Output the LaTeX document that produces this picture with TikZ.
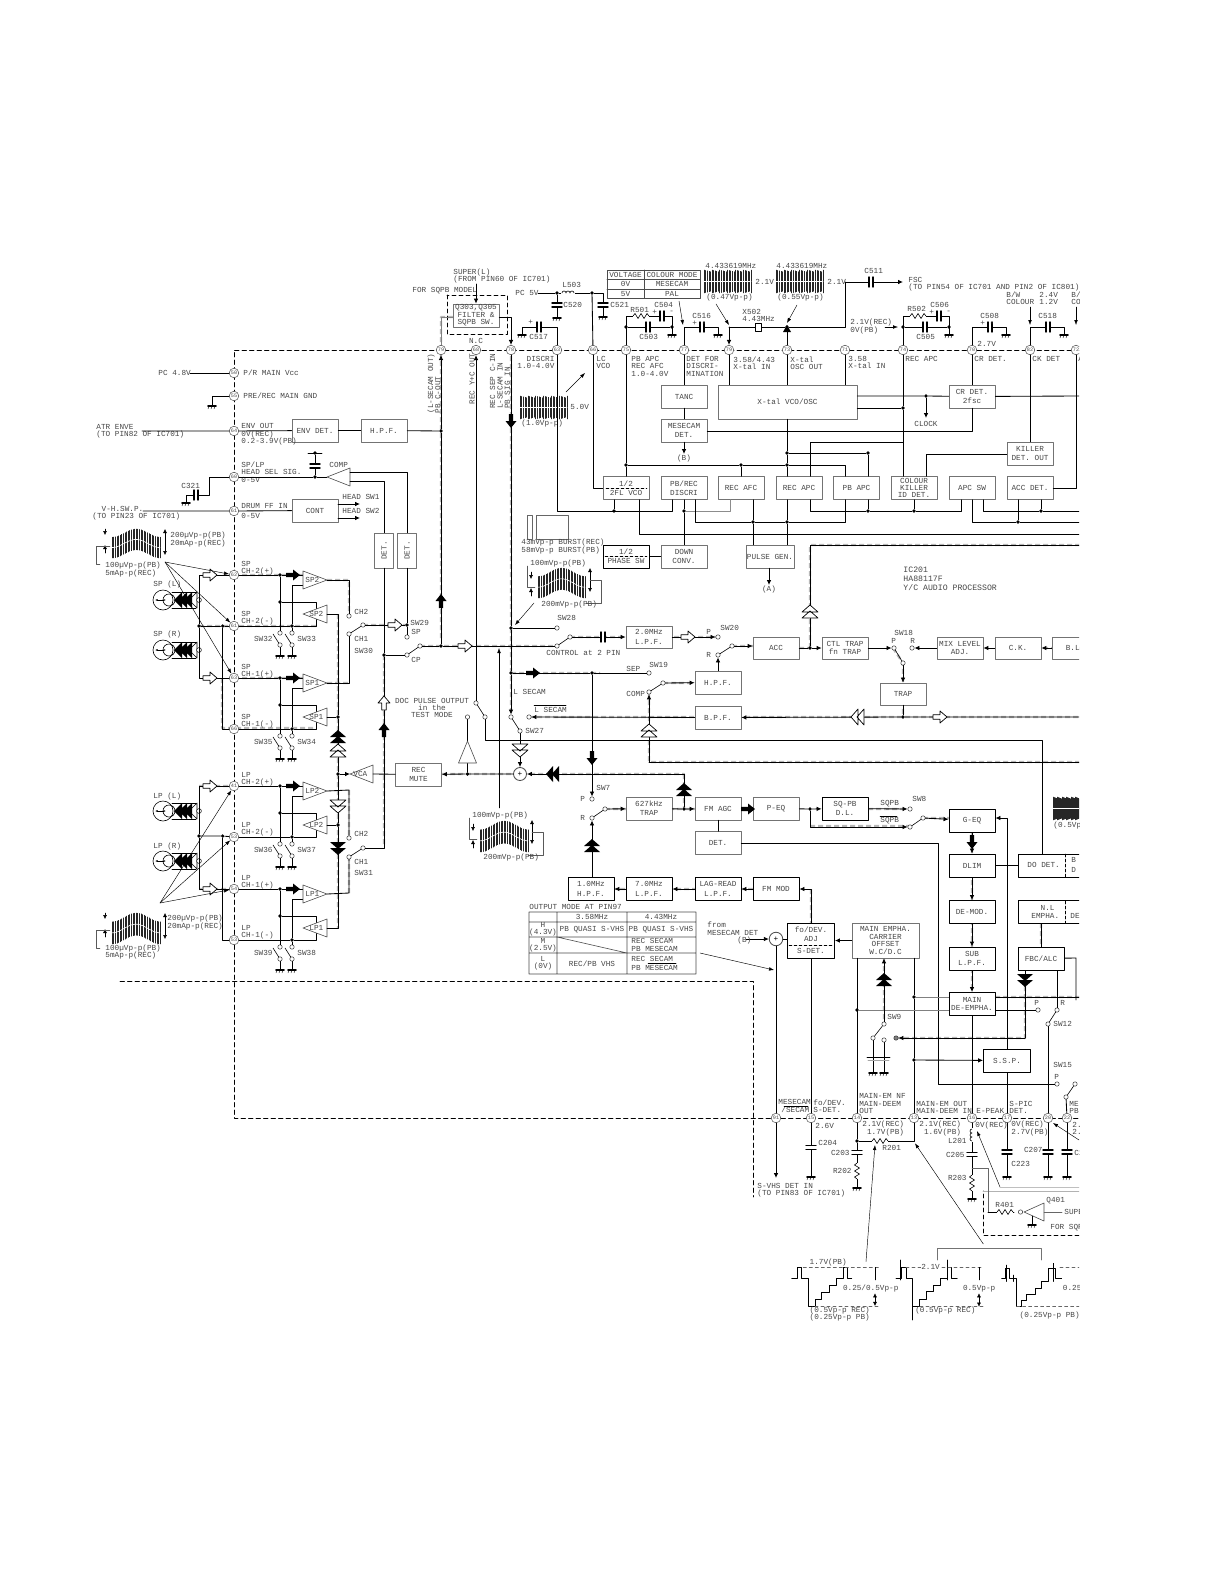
\documentclass[tikz,border=0pt]{standalone}
\usepackage{fontspec}
\setmainfont{Liberation Mono}
\usetikzlibrary{arrows.meta,calc}
\newcommand{\lblfont}{\fontsize{7.7}{7.4}\selectfont}
\newcommand{\pinfont}{\fontsize{5.2}{5.2}\selectfont}
\tikzset{
  txt/.style={font=\lblfont,text=black!72,inner sep=0pt,anchor=west,align=left},
  ctxt/.style={font=\lblfont,text=black!72,inner sep=0pt,align=center},
  blk/.style={draw=black!55,line width=.7pt,fill=white,font=\lblfont,text=black!72,align=center,inner sep=0pt,minimum width=46pt,minimum height=23pt},
  bblk/.style={blk,draw=black,line width=.9pt},
  icpin/.style={circle,draw=black!70,fill=white,inner sep=0pt,minimum size=9.6pt,line width=.5pt,font=\pinfont,text=black!70},
  term/.style={circle,draw=black!80,fill=white,inner sep=0pt,minimum size=4.4pt,line width=.5pt},
  jdot/.style={circle,fill=black,inner sep=0pt,minimum size=3.6pt},
  arr/.style={-{Latex[length=5pt,width=4.6pt]}},
  thin arr/.style={line width=.45pt,-{Latex[length=5pt,width=3.6pt]}},
  hl/.style={line width=2.4pt,draw=black!28,dash pattern=on 5pt off 3pt,line cap=butt},
  icbound/.style={line width=.8pt,dash pattern=on 4.5pt off 3pt},
  amp/.style={draw=black!70,line width=.6pt,fill=white},
  gnd/.pic={\draw[line width=1.6pt] (-4,0) -- (4,0); \draw[line width=.35pt] (-3,0) -- (-4,3) (0,0) -- (-1,3) (3,0) -- (2,3);},
  capa/.pic={\fill[white] (-2,-5) rectangle (2,5); \draw[line width=1.4pt] (-2,-5) -- (-2,5) (2,-5) -- (2,5);},
  resa/.pic={\fill[white] (-8,-3) rectangle (8,3); \draw[line width=.6pt] (-8,0) -- (-6,-2.5) -- (-3,2.5) -- (0,-2.5) -- (3,2.5) -- (6,-2.5) -- (8,0);},
  coila/.pic={\fill[white] (-7,-3) rectangle (7,3); \draw[line width=.6pt] (-6,0) arc[start angle=180,end angle=360,radius=2] arc[start angle=180,end angle=360,radius=2] arc[start angle=180,end angle=360,radius=2];},
  fatarr/.pic={\fill (-7,-2.2) -- (0,-2.2) -- (0,-5.5) -- (7,0) -- (0,5.5) -- (0,2.2) -- (-7,2.2) -- cycle;},
  openarr/.pic={\filldraw[fill=white,line width=.7pt] (-7,-2.2) -- (0,-2.2) -- (0,-6) -- (7,0) -- (0,6) -- (0,2.2) -- (-7,2.2) -- cycle;},
  dblfat/.pic={\fill (-6,-8) -- (1,0) -- (-6,8) -- cycle (0,-8) -- (7,0) -- (0,8) -- cycle;},
  dblopen/.pic={\filldraw[fill=white,line width=.7pt] (-6,-8) -- (1,0) -- (-6,8) -- cycle (0,-8) -- (7,0) -- (0,8) -- cycle;},
}
\newcommand{\gndat}[2]{\coordinate (#1) at (#2); \pic at (#1) {gnd};}
% hatched signal band, x y w h
\newcommand{\wavepic}[4]{%
  \foreach \i in {0,...,30}{
    \pgfmathsetmacro\xx{#1+\i*#3/30}
    \pgfmathsetmacro\yt{#2+#4*(.14+.14*sin(\i*12+90))}
    \draw[line width=.38pt,draw=black!85] (\xx,\yt) -- (\xx,\yt+#4*.72);
  }
  \draw[white,line width=.6pt] plot[domain=0:360,samples=25] ({#1+#3*(\x/360)},{#2+#4*(.5+.14*sin(\x+90))});
}
\newcommand{\burstpic}[4]{%
  \foreach \i in {0,...,30}{
    \pgfmathsetmacro\xx{#1+\i*#3/30}
    \pgfmathsetmacro\yd{mod(\i,5)*.4}
    \draw[line width=.38pt,draw=black!85] (\xx,#2+\yd) -- (\xx,#2+#4-\yd);
  }
  \draw[white,line width=.6pt] (#1,#2+#4*.5) -- (#1+#3,#2+#4*.5);
}
% amplifier pair with its two switches
\newcommand{\ampstage}[8]{%
  \begin{scope}[shift={(0,#2)}]
    \node[icpin] (#1p) at (234,0) {#3};
    \node[icpin] (#1m) at (234,51) {#4};
    \node[jdot] (#1a) at (280,0) {};
    \node[jdot] (#1b) at (280,27) {};
    \node[jdot] (#1c) at (292,51) {};
    \node[term] (#1s) at (280,58) {};
    \node[term] (#1t) at (292,58) {};
    \node[term] (#1u) at (280,70) {};
    \node[term] (#1v) at (292,70) {};
    \gndat{#1g}{280,81}
    \gndat{#1h}{292,81}
    \coordinate (#1i) at (303,0);
    \coordinate (#1j) at (303,10);
    \coordinate (#1jj) at (292,10);
    \coordinate (#1k) at (316,27);
    \coordinate (#1l) at (316,34);
    \coordinate (#1n) at (316,51);
    \coordinate (#1o) at (316,44);
    \coordinate (#1q) at (327,5);
    \coordinate (#1r) at (327,39);
    \draw (#1p) -- (#1a) -- (#1i);
    \draw (#1a) -- (#1s);
    \draw (#1b) -- (#1k) -- (#1l);
    \draw (#1m) -- (#1c) -- (#1n) -- (#1o);
    \draw (#1t) -- (#1c) -- (#1jj) -- (#1j);
    \draw[line width=.6pt] (273,59) -- (#1u) (285,59) -- (#1v);
    \draw (#1u) -- (#1g) (#1v) -- (#1h);
    \draw[amp] (303,-4) -- (327,5) -- (303,14) -- cycle;
    \draw[amp] (303,39) -- (327,30) -- (327,48) -- cycle;
    \node[txt] (#1la) at (305,5) {#5#6};
    \node[txt] (#1lb) at (309,39) {#5#6};
    \node[txt] (#1lc) at (241,-7) {#5\\CH-#6(+)};
    \node[txt] (#1ld) at (241,43) {#5\\CH-#6(-)};
    \node[txt,anchor=east] (#1le) at (273,64) {#7};
    \node[txt] (#1lf) at (297,64) {#8};
  \end{scope}
}
% tape head with its coil
\newcommand{\headunit}[3]{%
  \begin{scope}[shift={(0,#2)}]
    \node[txt] (#1l) at (153,-15) {#3};
    \draw[line width=.6pt] (163,0) circle (10) (169,0) circle (6);
    \draw[line width=.6pt,{Latex[length=2.5pt]}-{Latex[length=2.5pt]}] (155,0) -- (166,0);
    \draw[line width=.6pt] (172,-8) -- (196,-8) (172,8) -- (196,8);
    \fill (174,0) -- (182,-8) -- (182,8) -- cycle (179,0) -- (187,-8) -- (187,8) -- cycle (184,0) -- (192,-8) -- (192,8) -- cycle;
    \draw[line width=.6pt] (189,0) -- (197,-8) -- (197,8) -- cycle;
    \draw[line width=.5pt,fill=white] (199,0) circle (2.4);
  \end{scope}
}
\begin{document}
\begin{tikzpicture}[x=1pt,y=-1pt,line width=.85pt,line cap=round,line join=round]
  \useasboundingbox (0,0) rectangle (1224,1584);
  \fill[white] (0,0) rectangle (1224,1584);
  \clip (0,0) rectangle (1079,1584);

  % scanned highlight under the signal paths
  \draw[hl] (453,317) -- (441,317) -- (441,640) (511,356) -- (511,712) (420,646) -- (556,646)
    (234,575) -- (303,575) (327,580) -- (349,580) -- (349,612) (199,626) -- (316,626)
    (234,678) -- (303,678) (327,683) -- (349,683) (222,678) -- (222,728) -- (316,728)
    (338,614) -- (338,928) (384,655) -- (384,845) (363,625) -- (407,625) (442,774) -- (684,774)
    (684,774) -- (684,808) (570,637) -- (718,637) (732,646) -- (753,646) (799,648) -- (810,648)
    (810,648) -- (810,545) -- (1079,545) (649,692) -- (649,762) -- (1079,762)
    (529,717) -- (1079,717) (511,673) -- (600,673) (663,683) -- (695,683)
    (605,809) -- (799,809) (810,826) -- (910,826) (868,809) -- (910,809) (923,818) -- (949,818)
    (972,832) -- (972,1004) (811,889) -- (811,923) (753,889) -- (568,889)
    (884,958) -- (884,1024) (896,1038) -- (1025,1038) -- (1025,985) (995,997) -- (1079,997)
    (893,648) -- (903,663) -- (903,717) (995,648) -- (1079,648) (1041,923) -- (1041,947)
    (199,786) -- (234,786) (234,889) -- (199,889) (349,790) -- (349,838) (349,893) -- (349,857);

  % IC boundary and the outer dashed frame
  \draw[icbound] (1079,350) -- (234,350) -- (234,1118) -- (1079,1118);
  \draw[icbound] (120,981) -- (753,981) -- (753,1197);
  \draw[line width=.6pt,dash pattern=on 4pt off 3pt] (447,295) rectangle (507,334);
  \draw[line width=.6pt,dash pattern=on 4pt off 3pt] (1079,1235) -- (983,1235) -- (983,1191);
  \draw[line width=.6pt,draw=black!30] (983,1191) -- (1079,1191);

  % pins, top row
  \foreach \nm/\xx/\tx in {pinu/441/79,pinv/476/68,pinw/511/78,pinx/557/63,piny/593/66,pinz/626/75,
      pina/684/77,pinb/729/79,pinc/787/73,pind/845/71,pine/903/74,pinf/972/70,ping/1030/82,pinh/1076/72}{
    \node[icpin] (\nm) at (\xx,350) {\tx};
  }
  % pins, left side
  \foreach \nm/\yy/\tx in {pinvcc/373/50,pingnd/396/55,pinenv/431/64,pinsel/477/60,pindrum/511/61}{
    \node[icpin] (\nm) at (234,\yy) {\tx};
  }
  % pins, bottom row
  \foreach \nm/\xx/\tx in {pinsec/776/91,pinfo/811/15,pinnf/857/14,pinem/914/13,pinpk/972/16,pinpic/1007/17,pinsw/1048/20,pinme/1067/22}{
    \node[icpin] (\nm) at (\xx,1118) {\tx};
  }

  % blocks
  \node[blk] (envdet) at (315,430.5) {ENV DET.};
  \node[blk] (hpfa) at (384,430.5) {H.P.F.};
  \node[blk] (cont) at (315,510.5) {CONT};
  \node[blk,minimum width=19pt,minimum height=35pt] (deta) at (384,550.5) {\rotatebox{90}{DET.}};
  \node[blk,minimum width=19pt,minimum height=35pt] (detb) at (407,550.5) {\rotatebox{90}{DET.}};
  \node[blk] (q303) at (476,315.5) {Q303,Q305\\FILTER \&\\SQPB SW.};
  \node[blk] (tanc) at (684,396.5) {TANC};
  \node[blk] (mesdet) at (684,430.5) {MESECAM\\[2pt]DET.};
  \node[blk,minimum width=139pt,minimum height=34pt] (xtal) at (787.5,402) {X-tal VCO/OSC};
  \node[blk] (crdet) at (972,396.5) {CR DET.\\[2pt]2fsc};
  \node[blk] (killer) at (1030,453.5) {KILLER\\[2pt]DET. OUT};
  \node[blk] (vcoa) at (626,488) {1/2\\[2pt]2FL VCO};
  \node[blk] (discri) at (684,488) {PB/REC\\[2pt]DISCRI};
  \node[blk] (recafc) at (741,488) {REC AFC};
  \node[blk] (recapc) at (799,488) {REC APC};
  \node[blk] (pbapc) at (856.5,488) {PB APC};
  \node[blk] (killid) at (914,488) {COLOUR\\KILLER\\ID DET.};
  \node[blk] (apcsw) at (972,488) {APC SW};
  \node[blk] (accdet) at (1030,488) {ACC DET.};
  \node[bblk] (phasesw) at (626,556.5) {1/2\\[2pt]PHASE SW};
  \node[blk] (downconv) at (684,556.5) {DOWN\\[2pt]CONV.};
  \node[blk,minimum width=48pt] (pulsegen) at (770,556.5) {PULSE GEN.};
  \node[blk,minimum height=22pt] (lpfa) at (649,637) {2.0MHz\\[2pt]L.P.F.};
  \node[blk,minimum height=22pt] (acc) at (776,648) {ACC};
  \node[blk,minimum height=22pt] (ctltrap) at (845,648) {CTL TRAP\\fn TRAP};
  \node[blk,minimum height=22pt] (mixadj) at (960,648) {MIX LEVEL\\ADJ.};
  \node[blk,minimum height=22pt] (ckblk) at (1018,648) {C.K.};
  \node[blk,minimum height=22pt] (blblk) at (1075,648) {B.L.};
  \node[blk,minimum height=22pt] (trapb) at (903,694) {TRAP};
  \node[blk] (hpfb) at (718,682.5) {H.P.F.};
  \node[blk] (bpf) at (718,717.5) {B.P.F.};
  \node[blk] (recmute) at (418.5,774.5) {REC\\[2pt]MUTE};
  \node[blk] (trapc) at (649,808.5) {627kHz\\[2pt]TRAP};
  \node[blk] (fmagc) at (718,808.5) {FM AGC};
  \node[blk] (peq) at (776,808.5) {P-EQ};
  \node[bblk] (sqpb) at (845,808.5) {SQ-PB\\[2pt]D.L.};
  \node[blk] (detc) at (718,843) {DET.};
  \node[bblk] (geq) at (972,820.5) {G-EQ};
  \node[bblk] (dlim) at (972,865.5) {DLIM};
  \node[bblk] (demod) at (972,912) {DE-MOD.};
  \node[bblk] (sublpf) at (972,958.5) {SUB\\[2pt]L.P.F.};
  \node[bblk] (mainde) at (972,1004) {MAIN\\[1pt]DE-EMPHA.};
  \node[bblk] (hpfc) at (591,889) {1.0MHz\\[2pt]H.P.F.};
  \node[bblk] (lpfb) at (649,889) {7.0MHz\\[2pt]L.P.F.};
  \node[bblk] (lagread) at (718,889) {LAG-READ\\[2pt]L.P.F.};
  \node[bblk] (fmmod) at (776,889) {FM MOD};
  \node[bblk,minimum width=47pt,minimum height=35pt] (fndev) at (811,940.5) {fo/DEV.\\[1pt]ADJ\\[5pt]S-DET.};
  \node[blk,minimum width=67pt,minimum height=35pt] (mainemp) at (885.5,940.5) {MAIN EMPHA.\\CARRIER\\OFFSET\\W.C/D.C};
  \node[bblk,minimum width=47pt] (ssp) at (1007,1060.5) {S.S.P.};
  \node[bblk,minimum width=80pt] (dodet) at (1058,865.5) {};
  \node[bblk,minimum width=80pt] (nlemph) at (1058,912) {};
  \node[bblk] (fbc) at (1041,958.5) {FBC/ALC};
  \node[txt] (dotxt) at (1027,865) {DO DET.};
  \node[txt] (nltxt) at (1031,912) {~~N.L\\[1pt]EMPHA.};
  \node[txt] (bdtxt) at (1071,865) {B\\[3pt]D};
  \node[txt] (detxt) at (1070,916) {DE};
  \draw[line width=.5pt,dash pattern=on 3pt off 2pt] (1065,854) -- (1065,877) (1065,901) -- (1065,923);
  \draw[line width=.4pt,dash pattern=on 3pt off 2pt] (789,945) -- (832,945) (606,488) -- (647,488) (605,556) -- (647,556);

  % left side, top
  \node[txt] (pcfour) at (158,373) {PC 4.8V};
  \coordinate (vccl) at (190,373);
  \draw (vccl) -- (pinvcc);
  \node[txt] (vcctxt) at (243,373) {P/R MAIN Vcc};
  \node[txt] (gndtxt) at (243,396) {PRE/REC MAIN GND};
  \gndat{gpre}{212,406}
  \draw (pingnd) -| (gpre);
  \node[txt] (atrtxt) at (96,431) {ATR ENVE\\(TO PIN82 OF IC701)};
  \coordinate (envl) at (142,431);
  \node[jdot] (envj) at (441,431) {};
  \draw (envl) -- (pinenv) -- (envdet) -- (hpfa) -- (envj);
  \node[txt] (envtxt) at (241,434.5) {ENV OUT\\0V(REC)\\0.2-3.9V(PB)};
  \node[txt] (seltxt) at (241,472) {SP/LP\\HEAD SEL SIG.\\0-5V};
  \node[jdot] (selj) at (315,477) {};
  \coordinate (compin) at (327,477);
  \draw (pinsel) -- (selj) -- (compin);
  \draw[amp] (327,477) -- (350,468) -- (350,486) -- cycle;
  \node[txt] (comptxt) at (329,465) {COMP};
  \node[jdot] (capt) at (315,453) {};
  \coordinate (capl) at (308,453); \coordinate (capr) at (322,453);
  \draw (capl) -- (capr);
  \draw (capt) -- (selj);
  \pic[rotate=90] at (315,466) {capa};
  \coordinate (compa) at (350,472); \coordinate (compb) at (350,481);
  \draw (compa) -| (detb.north);
  \draw (compb) -| (deta.north);
  \coordinate (c321a) at (209,495);
  \gndat{g321}{186,503}
  \draw (pinsel) -| (c321a) -| (g321);
  \pic at (196,495) {capa};
  \node[txt] (c321) at (181,486) {C321};
  \node[txt] (vhtxt) at (92,513) {~~V-H.SW.P.\\(TO PIN23 OF IC701)};
  \coordinate (drl) at (143,511);
  \draw (drl) -- (pindrum) -- (cont);
  \node[txt] (drumtxt) at (241,511) {DRUM FF IN\\[2pt]0-5V};
  \coordinate (swa) at (360,504); \coordinate (swb) at (360,518);
  \coordinate (swc) at (338,504); \coordinate (swd) at (338,518);
  \draw[arr] (swc) -- (swa);
  \draw[arr] (swd) -- (swb);
  \node[txt] (swatxt) at (342,497) {HEAD SW1};
  \node[txt] (swbtxt) at (342,511) {HEAD SW2};

  % top left of the IC, pins and labels
  \node[txt] (suptxt) at (453,276) {SUPER(L)\\(FROM PIN60 OF IC701)};
  \node[txt] (sqtxt) at (412,291) {FOR SQPB MODEL};
  \coordinate (supa) at (476,284);
  \draw[arr] (supa) -- (q303);
  \coordinate (qa) at (511,317); \coordinate (qb) at (441,317);
  \draw[arr] (q303.east |- qa) -- (qa) -- (pinw);
  \draw[line width=.5pt,draw=black!50] (q303.west |- qb) -- (qb) -- (pinu);
  \node[ctxt] (nctxt) at (476,341) {N.C};
  \node[txt,rotate=90,anchor=east] (tra) at (434,353) {(L-SECAM OUT)\\PB C-OUT};
  \node[txt,rotate=90,anchor=east] (trb) at (472,353) {REC Y+C OUT};
  \node[txt,rotate=90,anchor=east] (trc) at (500,353) {REC SEP C-IN\\L-SECAM IN\\PB SIG IN};
  \node[txt] (disctxt) at (517,362.5) {~~DISCRI\\1.0-4.0V};
  \burstpic{520}{396}{47}{23}
  \node[txt] (fivev) at (570,407) {5.0V};
  \node[txt] (onev) at (521,424) {(1.0Vp-p)};
  \coordinate (wfa) at (566,392); \coordinate (wfb) at (585,373);
  \draw[thin arr] (wfa) -- (wfb);

  \node[txt] (pcfive) at (515,293) {PC 5V};
  \coordinate (pcl) at (538,293);
  \node[jdot] (j520) at (557,293) {};
  \node[jdot] (j521) at (592,293) {};
  \coordinate (c521t) at (603,293);
  \gndat{g520}{557,318}
  \gndat{g521}{603,317}
  \draw (pcl) -- (j520) -- (j521) -- (c521t) -- (g521);
  \draw (j520) -- (g520);
  \pic at (568,293) {coila};
  \pic[rotate=90] at (557,305) {capa};
  \pic[rotate=90] at (603,305) {capa};
  \node[txt] (l503) at (562,285) {L503};
  \node[txt] (c520) at (563,305) {C520};
  \node[txt] (c521) at (610,305) {C521};
  \gndat{g517}{522,335}
  \coordinate (c517a) at (522,327);
  \draw (pinx) |- (c517a) -- (g517);
  \pic at (539,327) {capa};
  \node[txt] (c517) at (529,337) {C517};
  \node[txt] (p517) at (528,322) {+};
  \draw (j521) -- (piny);
  \coordinate (vcol) at (593,488);
  \draw (piny) -- (vcol) -- (vcoa);
  \node[txt] (lcvco) at (596,362.5) {LC\\VCO};
  \coordinate (x511) at (672.7,511);
  \draw (pinx) |- (x511) -- (discri.south -| x511);
  \node[jdot] (j614) at (614,511) {};
  \draw (j614) -- (vcoa.south -| j614);

  % colour mode table
  \draw[line width=.6pt,draw=black!70] (607,270) rectangle (700,298) (607,279) -- (700,279) (607,289) -- (700,289) (644,270) -- (644,298);
  \node[ctxt] (tva) at (625.5,275) {VOLTAGE};
  \node[ctxt] (tvb) at (672,275) {COLOUR MODE};
  \node[ctxt] (tvc) at (625.5,284) {0V};
  \node[ctxt] (tvd) at (672,284) {MESECAM};
  \node[ctxt] (tve) at (625.5,293.5) {5V};
  \node[ctxt] (tvf) at (672,293.5) {PAL};

  % pin 75 and pin 74 filter nets
  \foreach \nm/\pn/\sx in {ftx/pinz/0,fty/pine/277}{
    \begin{scope}[shift={(\sx,0)}]
      \node[jdot] (\nm a) at (626,327) {};
      \node[jdot] (\nm b) at (672,327) {};
      \coordinate (\nm c) at (626,316);
      \coordinate (\nm d) at (672,316);
      \gndat{\nm e}{672,335}
      \draw (\pn) -- (\nm c) -- (\nm d) -- (\nm e);
      \draw (\nm a) -- (\nm b);
      \pic at (641,316) {resa};
      \pic at (662,316) {capa};
      \pic at (648,327) {capa};
      \node[txt] (\nm f) at (652,312) {+};
      \node[txt] (\nm g) at (669,312) {-};
    \end{scope}
  }
  \node[txt] (r501) at (630,310) {R501};
  \node[txt] (c504) at (654,305) {C504};
  \node[txt] (c503) at (639,337) {C503};
  \node[txt] (r502) at (907,309) {R502};
  \node[txt] (c506) at (930,305) {C506};
  \node[txt] (c505) at (916,337) {C505};
  \foreach \nm/\pn/\sx/\tx in {ga/pina/0/C516,gb/pinf/288/C508,gk/ping/346/C518}{
    \begin{scope}[shift={(\sx,0)}]
      \coordinate (\nm a) at (718,327);
      \gndat{\nm b}{718,335}
      \draw (\pn) |- (\nm a) -- (\nm b);
      \pic at (702,327) {capa};
      \node[txt] (\nm c) at (692,316) {\tx};
    \end{scope}
  }
  \node[txt] (pluse) at (692,323) {+ -};
  \node[txt] (plusf) at (980,323) {+ -};

  % X-tal group
  \node[jdot] (xj) at (787,327) {};
  \coordinate (xa) at (729,327);
  \coordinate (xb) at (845,327);
  \coordinate (xc) at (845,282);
  \coordinate (fsc) at (903,282);
  \draw[arr] (xa) -- (pinb);
  \draw (xa) -- (xj) -- (xb) -- (xc);
  \draw[arr] (xc) -- (fsc);
  \draw (pinc) -- (xj);
  \fill (787,325) -- (783,332) -- (791,332) -- cycle;
  \filldraw[fill=white,line width=.5pt] (755,323) rectangle (761,331);
  \pic at (871,282) {capa};
  \node[txt] (x502) at (742,315.5) {X502\\4.43MHz};
  \node[txt] (c511) at (864,271) {C511};
  \node[txt] (fsctxt) at (908,284) {FSC\\(TO PIN54 OF IC701 AND PIN2 OF IC801)};
  \burstpic{704}{270}{47}{23}
  \burstpic{776}{270}{47}{23}
  \node[txt] (wva) at (705,266) {4.433619MHz};
  \node[txt] (wvb) at (776,266) {4.433619MHz};
  \node[txt] (wvc) at (755,282) {2.1V};
  \node[txt] (wvd) at (827,282) {2.1V};
  \node[txt] (wve) at (706,298) {(0.47Vp-p)};
  \node[txt] (wvf) at (777,298) {(0.55Vp-p)};
  \coordinate (aa) at (679,301); \coordinate (ab) at (683,325);
  \coordinate (ac) at (716,304); \coordinate (ad) at (729,325);
  \coordinate (ae) at (797,305); \coordinate (af) at (787,323);
  \coordinate (ag) at (885,327); \coordinate (ah) at (898,327);
  \draw[thin arr] (aa) -- (ab);
  \draw[thin arr] (ac) -- (ad);
  \draw[thin arr] (ae) -- (af);
  \draw[thin arr] (ag) -- (ah);
  \node[txt] (vrec) at (850,326.5) {2.1V(REC)\\0V(PB)};
  \node[txt] (twosev) at (977,344) {2.7V};
  \node[txt] (bwtxt) at (1006,298.5) {B/W\\COLOUR};
  \node[txt] (vbw) at (1039,298.5) {2.4V\\1.2V};
  \node[txt] (bwb) at (1071,298.5) {B/\\CO};
  \coordinate (bwa) at (1030,307); \coordinate (bwc) at (1030,325);
  \coordinate (bwd) at (1076,307); \coordinate (bwe) at (1076,325);
  \draw[thin arr] (bwa) -- (bwc);
  \draw[thin arr] (bwd) -- (bwe);

  % labels under the top pins
  \node[txt,anchor=north west] (ta) at (631,356) {PB APC\\REC AFC\\1.0-4.0V};
  \node[txt,anchor=north west] (tb) at (686,356) {DET FOR\\DISCRI-\\MINATION};
  \node[txt,anchor=north west] (tc) at (733,356) {3.58/4.43\\X-tal IN};
  \node[txt,anchor=north west] (td) at (790,356) {X-tal\\OSC OUT};
  \node[txt,anchor=north west] (te) at (848,356) {3.58\\X-tal IN};
  \node[txt,anchor=north west] (tf) at (905,356) {REC APC};
  \node[txt,anchor=north west] (tg) at (974,356) {CR DET.};
  \node[txt,anchor=north west] (th) at (1032,356) {CK DET};
  \node[txt,anchor=north west] (ti) at (1078,356) {A};

  % wiring of the top half
  \draw (pina) -- (tanc);
  \draw (tanc) -- (mesdet);
  \coordinate (bout) at (684,454);
  \draw[arr] (mesdet) -- (bout);
  \node[ctxt] (btxt) at (684,458.5) {(B)};
  \coordinate (mesr) at (972,431);
  \draw (mesdet.east |- mesr) -- (mesr) -- (crdet);
  \draw (pinb) -- (xtal.north -| pinb);
  \draw (pinc) -- (xtal.north -| pinc);
  \draw (pind) -- (xtal.north -| pind);
  \node[jdot] (clkj) at (926,396) {};
  \coordinate (clkb) at (926,418);
  \draw (xtal.east |- clkj) -- (clkj) -- (crdet);
  \draw[arr] (clkj) -- (clkb);
  \node[ctxt] (clock) at (926,424) {CLOCK};
  \coordinate (crr) at (1079,396);
  \draw (crdet) -- (crr);
  \node[jdot] (apcj) at (903,408) {};
  \draw (xtal.east |- apcj) -- (apcj);
  \coordinate (apcc) at (810,442);
  \draw (pine) -- (apcj) -- (killid.north -| apcj);
  \coordinate (apcd) at (903,442);
  \draw (apcd) -- (apcc) -- (recapc.north -| apcc);
  \draw (pinf) -- (crdet);
  \draw (ping) -- (killer);
  \draw (pinh) |- (accdet);
  \coordinate (kila) at (926,454);
  \draw (killer.west |- kila) -- (kila) -- (killid.north -| kila);
  \node[jdot] (ja) at (787,453) {};
  \node[jdot] (jb) at (787,465) {};
  \node[jdot] (jc) at (868,453) {};
  \draw (xtal.south -| ja) -- (ja) -- (jb) -- (recapc.north -| jb);
  \draw (ja) -- (jc) -- (pbapc.north -| jc);
  \node[jdot] (jd) at (626,465) {};
  \node[jdot] (je) at (741,465) {};
  \coordinate (jf) at (845,465);
  \draw (pinz) -- (jd) -- (vcoa);
  \draw (jd) -- (je) -- (jb) -- (jf) -- (pbapc.north -| jf);
  \draw (je) -- (recafc);
  % below the row
  \node[jdot] (ka) at (684,511) {};
  \coordinate (kb) at (730,511);
  \draw (discri) -- (ka) -- (downconv);
  \draw[draw=black!45] (ka) -- (kb) -- (recafc.south -| kb);
  \coordinate (kc) at (810,511);
  \coordinate (kd) at (961,511);
  \node[jdot] (ke) at (868,511) {};
  \node[jdot] (kf) at (914,511) {};
  \draw (recapc.south -| kc) -- (kc) -- (ke) -- (kf) -- (kd) -- (apcsw.south -| kd);
  \draw (ke) -- (pbapc.south -| ke);
  \draw (kf) -- (killid);
  \coordinate (kg) at (695,522);
  \coordinate (kh) at (845,522);
  \node[jdot] (ki) at (753,522) {};
  \node[jdot] (kj) at (787,522) {};
  \draw (discri.south -| kg) -- (kg) -- (ki) -- (kj) -- (kh) -- (pbapc.south -| kh);
  \draw (recafc.south -| ki) -- (ki) -- (pulsegen.north -| ki);
  \draw (recapc.south -| kj) -- (kj) -- (pulsegen.north -| kj);
  \coordinate (kk) at (983,511);
  \coordinate (kl) at (1079,511);
  \node[jdot] (km) at (1041,511) {};
  \draw (apcsw.south -| kk) -- (kk) -- (km) -- (kl);
  \draw (km) -- (accdet.south -| km);
  \coordinate (kn) at (972,522);
  \coordinate (ko) at (1079,522);
  \node[jdot] (kp) at (1018,522) {};
  \draw (apcsw) -- (kn) -- (kp) -- (ko);
  \draw (kp) -- (accdet.south -| kp);
  \coordinate (kq) at (639,534);
  \coordinate (kr) at (1079,534);
  \draw (vcoa.south -| kq) -- (kq) -- (kr);
  \draw (phasesw) -- (downconv);
  \coordinate (aout) at (769,585);
  \draw[arr] (pulsegen.south -| aout) -- (aout);
  \node[ctxt] (atxt) at (769,589.5) {(A)};

  % pulse burst near phase switch
  \draw[line width=.5pt,draw=black!60] (527,515) rectangle (532,539) (536,515) rectangle (568,539);
  \node[txt] (bura) at (521,546.5) {43mVp-p BURST(REC)\\58mVp-p BURST(PB)};

  % head amplifier stages
  \ampstage{spb}{575}{62}{61}{SP}{2}{SW32}{SW33}
  \ampstage{spa}{678}{63}{66}{SP}{1}{SW35}{SW34}
  \ampstage{lpb}{786}{41}{53}{LP}{2}{SW36}{SW37}
  \ampstage{lpa}{889}{54}{53}{LP}{1}{SW39}{SW38}
  \headunit{hsl}{600}{SP (L)}
  \headunit{hsr}{650}{SP (R)}
  \headunit{hll}{811}{LP (L)}
  \headunit{hlr}{861}{LP (R)}

  % head bus
  \coordinate (ba) at (199,575);
  \node[jdot] (bb) at (199,626) {};
  \node[jdot] (bc) at (222.7,626) {};
  \coordinate (bd) at (199,678);
  \coordinate (be) at (222.7,729);
  \draw (spbp) -- (ba) -- (bb) -- (bd) -- (spap);
  \draw (bb) -- (bc) -- (spbm);
  \draw (bc) -- (be) -- (spam);
  \coordinate (bf) at (199,786);
  \node[jdot] (bg) at (199,836) {};
  \node[jdot] (bh) at (222.7,836) {};
  \coordinate (bi) at (199,889);
  \coordinate (bj) at (222.7,940);
  \draw (lpbp) -- (bf) -- (bg) -- (bi) -- (lpap);
  \draw (bg) -- (bh) -- (lpbm);
  \draw (bh) -- (bj) -- (lpam);
  \pic at (210,575) {openarr};
  \pic at (210,678) {openarr};
  \pic at (210,786) {openarr};
  \pic at (210,889) {openarr};
  \pic at (293,575) {fatarr};
  \pic at (293,678) {fatarr};
  \pic at (293,786) {fatarr};
  \pic at (293,889) {fatarr};

  % outputs to the channel switches
  \node[term] (cha) at (349,616) {};
  \node[term] (chb) at (349,634) {};
  \node[term] (chc) at (363,625) {};
  \node[term] (chd) at (349,838) {};
  \node[term] (che) at (349,857) {};
  \node[term] (chf) at (363,848) {};
  \coordinate (oa) at (349,580);
  \coordinate (ob) at (349,683);
  \coordinate (oc) at (349,790);
  \coordinate (od) at (349,893);
  \draw (spbq) -- (oa) -- (cha);
  \draw (spaq) -- (ob) -- (chb);
  \draw (lpbq) -- (oc) -- (chd);
  \draw (lpaq) -- (od) -- (che);
  \draw[line width=.6pt] (chb) -- (chc);
  \draw[line width=.6pt] (che) -- (chf);
  \coordinate (oe) at (338,614);
  \coordinate (of) at (338,928);
  \node[jdot] (og) at (338,717) {};
  \node[jdot] (oh) at (338,774) {};
  \node[jdot] (oi) at (338,825) {};
  \draw (spbr) -- (oe) -- (og) -- (oh) -- (oi) -- (of) -- (lpar);
  \draw (spar) -- (og);
  \draw (lpbr) -- (oi);
  \pic[rotate=90] at (338,737) {dblfat};
  \pic[rotate=90] at (338,751) {dblopen};
  \pic[rotate=-90] at (338,806) {dblopen};
  \pic[rotate=-90] at (338,848) {dblfat};
  \node[txt] (cta) at (354,612) {CH2};
  \node[txt] (ctb) at (354,639) {CH1};
  \node[txt] (ctc) at (354,651) {SW30};
  \node[txt] (ctd) at (354,834) {CH2};
  \node[txt] (cte) at (354,862) {CH1};
  \node[txt] (ctf) at (354,873) {SW31};

  % VCA and REC MUTE
  \draw[amp] (350,774) -- (373,765) -- (373,783) -- cycle;
  \node[txt] (vcatxt) at (353,774) {VCA};
  \coordinate (vcat) at (350,774);
  \coordinate (vcab) at (373,774);
  \draw[arr] (oh) -- (vcat);
  \draw (recmute) -- (vcab);

  % SP/CP switch
  \node[jdot] (sa) at (407,625) {};
  \node[term] (sb) at (407,637) {};
  \node[term] (sc) at (407,655) {};
  \node[term] (sd) at (420,646) {};
  \node[jdot] (se) at (384,655) {};
  \coordinate (sf) at (384,848);
  \draw (chc) -- (sa);
  \draw (detb) -- (sa) -- (sb);
  \draw (deta) -- (se) -- (sf) -- (chf);
  \draw (se) -- (sc);
  \draw[line width=.6pt] (sc) -- (sd);
  \pic at (395,625) {openarr};
  \pic[rotate=90] at (384,703) {openarr};
  \pic[rotate=90] at (384,730) {fatarr};
  \node[txt] (sga) at (410,623) {SW29};
  \node[txt] (sgb) at (411,632) {SP};
  \node[txt] (sgc) at (411,660) {CP};
  \node[ctxt] (docp) at (432,708) {DOC PULSE OUTPUT\\in the\\TEST MODE};

  % main vertical lines
  \node[jdot] (ma) at (441,646) {};
  \node[term] (mb) at (557,646) {};
  \draw (sd) -- (ma) -- (mb);
  \draw[arr] (ma) -- (envj) -- (pinu);
  \pic at (465,646) {openarr};
  \pic[rotate=90] at (441,601) {fatarr};
  \node[term] (mc) at (476,703) {};
  \node[term] (md) at (485,717) {};
  \node[term] (me) at (467.5,717) {};
  \coordinate (mf) at (485,740);
  \coordinate (mg) at (1042,740);
  \draw[arr] (mc) -- (pinv);
  \draw[line width=.6pt] (mc) -- (md);
  \draw (md) -- (mf) -- (mg) -- (dodet.north -| mg);
  \node[jdot] (mh) at (467.5,774) {};
  \coordinate (mi) at (467.5,741);
  \coordinate (mj) at (467.5,763);
  \draw (me) -- (mi);
  \draw (mh) -- (mj);
  \draw[amp] (467.5,741) -- (476.5,763) -- (458.5,763) -- cycle;

  % pin 78 line
  \node[jdot] (na) at (511,628) {};
  \node[term] (nb) at (557,628) {};
  \node[jdot] (nc) at (511,673) {};
  \node[jdot] (nd) at (592,673) {};
  \node[term] (ne) at (649,673) {};
  \node[term] (nf) at (511,717) {};
  \node[term] (ng) at (529,717) {};
  \node[term] (nh) at (520,731) {};
  \draw (pinw) -- (na) -- (nc);
  \draw[arr] (nc) -- (nf);
  \draw (na) -- (nb);
  \draw (nc) -- (nd) -- (ne);
  \draw[line width=.6pt] (nf) -- (nh);
  \pic[rotate=-90] at (511,421) {fatarr};
  \pic at (533,673) {fatarr};
  \node[txt] (sw28) at (557,618) {SW28};
  \node[txt] (cntl) at (546,653) {CONTROL at 2 PIN};
  \node[txt] (lsec) at (513,692) {L SECAM};
  \node[txt] (lsecb) at (534,710) {L SECAM};
  \node[txt] (sw27) at (525,731) {SW27};
  \draw[line width=.5pt] (534,705) -- (566,705);
  \node[txt] (sep) at (626,669) {SEP};
  \node[txt] (sw19) at (649,665) {SW19};
  \node[txt] (comptx) at (626,694) {COMP};

  % signal chain through L.P.F.
  \node[term] (pa) at (570,637) {};
  \draw[line width=.6pt] (mb) -- (pa);
  \draw[arr] (pa) -- (lpfa);
  \pic at (603,637) {capa};
  \node[term] (pb) at (718,637) {};
  \node[term] (pc) at (718,655) {};
  \node[term] (pd) at (732,646) {};
  \draw[arr] (lpfa) -- (pb);
  \pic at (688,637) {openarr};
  \draw[line width=.6pt] (pc) -- (pd);
  \draw[arr] (pd) -- (acc.west |- pd);
  \draw[arr] (hpfb.north -| pc) -- (pc);
  \node[txt] (ptxt) at (706,632) {P};
  \node[txt] (rtxt) at (706,655) {R};
  \node[txt] (sw20) at (720,628) {SW20};
  \node[term] (qa1) at (649,692) {};
  \node[term] (qb1) at (663,683) {};
  \draw[line width=.6pt] (qa1) -- (qb1);
  \draw[arr] (qb1) -- (hpfb);
  \coordinate (qc) at (649,762);
  \coordinate (qd) at (1079,762);
  \draw[arr] (qc) -- (qa1);
  \draw (qc) -- (qd);
  \pic[rotate=90] at (649,731) {dblopen};
  % ACC to the right
  \node[jdot] (ra) at (810,648) {};
  \coordinate (rb) at (810,545);
  \coordinate (rc) at (1079,545);
  \draw (acc) -- (ra);
  \draw[arr] (ra) -- (ctltrap);
  \draw (ra) -- (rb) -- (rc);
  \pic[rotate=90] at (810,612) {dblopen};
  \node[term] (rd) at (894,648) {};
  \node[term] (re) at (912,648) {};
  \node[term] (rf) at (903,663) {};
  \draw[arr] (ctltrap) -- (rd);
  \draw[line width=.6pt] (rd) -- (rf);
  \draw[arr] (rf) -- (trapb);
  \draw[arr] (mixadj) -- (re);
  \draw[arr] (ckblk) -- (mixadj);
  \draw[arr] (blblk) -- (ckblk);
  \node[txt] (swib) at (894,633) {SW18};
  \node[txt] (ptr) at (891,640.5) {P};
  \node[txt] (rtr) at (910,640.5) {R};
  \node[txt,font=\fontsize{8.2}{8.8}\selectfont] (ictxt) at (903,579) {IC201\\HA88117F\\Y/C AUDIO PROCESSOR};
  % B.P.F. line
  \node[jdot] (ua) at (903,717) {};
  \coordinate (ub) at (1079,717);
  \draw (trapb) -- (ua);
  \draw[arr] (ub) -- (ua) -- (bpf);
  \draw[arr] (bpf) -- (ng);
  \pic[rotate=180] at (858,717) {dblopen};
  \pic at (940,717) {openarr};

  % sum point and REC MUTE feed
  \node[circle,draw=black!70,fill=white,inner sep=0pt,minimum size=13pt,font=\lblfont] (suma) at (520,774) {+};
  \coordinate (va) at (684,774);
  \node[jdot] (vb) at (684,809) {};
  \draw[arr] (nh) -- (suma);
  \pic[rotate=-90] at (520,750) {dblopen};
  \draw[arr] (va) -- (suma);
  \draw[arr] (suma) -- (mh) -- (recmute);
  \draw (va) -- (vb);
  \pic[rotate=180] at (553,774) {dblfat};
  \pic[rotate=90] at (684,790) {dblfat};

  % SW7 and lower chain
  \node[term] (wa) at (592,799) {};
  \node[term] (wb) at (592,818) {};
  \node[term] (wc) at (605,809) {};
  \draw[arr] (nd) -- (wa);
  \pic[rotate=-90] at (592,758) {fatarr};
  \draw[line width=.6pt] (wb) -- (wc);
  \draw[arr] (wc) -- (trapc);
  \draw (trapc) -- (vb);
  \draw[arr] (vb) -- (fmagc);
  \draw (fmagc) -- (peq);
  \pic at (748,809) {fatarr};
  \draw (fmagc) -- (detc);
  \node[txt] (sw7) at (596,788) {SW7};
  \node[txt] (pse) at (580,799) {P};
  \node[txt] (rse) at (580,818) {R};
  \node[jdot] (xaa) at (810,809) {};
  \draw (peq) -- (xaa);
  \draw[arr] (xaa) -- (sqpb);
  \node[term] (xab) at (910,809) {};
  \node[term] (xac) at (910,827) {};
  \node[term] (xad) at (923,818) {};
  \coordinate (xae) at (810,827);
  \draw[arr] (sqpb) -- (xab);
  \draw[arr] (xaa) -- (xae) -- (xac);
  \draw[line width=.6pt] (xac) -- (xad);
  \draw[arr] (xad) -- (geq);
  \node[txt] (sqa) at (880,804) {SQPB};
  \node[txt] (sqb) at (880,821) {SQPB};
  \draw[line width=.5pt] (880,816) -- (897,816);
  \node[txt] (sw8) at (912,799) {SW8};
  \coordinate (ya) at (938,843);
  \coordinate (yb) at (938,1084);
  \node[term] (yc) at (1057,1084) {};
  \draw (detc) -- (ya) -- (yb) -- (yc);
  \draw[arr] (geq) -- (dlim);
  \pic[rotate=-90] at (972,842) {fatarr};
  \draw[arr] (dlim) -- (demod);
  \draw[arr] (demod) -- (sublpf);
  \draw[arr] (sublpf) -- (mainde);
  \draw (dlim) -- (dodet.west |- dlim);
  \coordinate (yd) at (1007,818);
  \draw[arr] (ssp.north -| yd) -- (yd) -- (geq.east |- yd);
  \draw (nlemph.south -| fbc) -- (fbc);

  % fm chain
  \coordinate (za) at (811,889);
  \draw[arr] (fndev) -- (za) -- (fmmod);
  \draw[arr] (fmmod) -- (lagread);
  \draw[arr] (lagread) -- (lpfb);
  \draw[arr] (lpfb) -- (hpfc);
  \draw[arr] (hpfc.north -| wb) -- (wb);
  \pic[rotate=90] at (592,846) {dblfat};
  \draw[arr] (mainemp) -- (fndev);
  \node[circle,draw=black!70,fill=white,inner sep=0pt,minimum size=13.5pt,font=\lblfont] (sumb) at (776,939) {+};
  \coordinate (zb) at (746,939);
  \draw[arr] (zb) -- (sumb);
  \draw (sumb) -- (fndev.west |- sumb);
  \node[txt] (fromtxt) at (707,925) {from};
  \node[txt] (fromb) at (707,932.5) {MESECAM DET};
  \node[txt] (fromc) at (737,940) {(B)};
  \coordinate (zc) at (700,953);
  \coordinate (zd) at (774,970);
  \draw[thin arr] (zc) -- (zd);

  % mode table
  \draw[line width=.6pt,draw=black!70] (529,912) rectangle (696,974) (529,922) -- (696,922) (529,937) -- (696,937) (529,953) -- (696,953) (557,912) -- (557,974) (627,912) -- (627,974) (557,937) -- (627,953);
  \node[txt] (otxt) at (529,907) {OUTPUT MODE AT PIN97};
  \node[ctxt] (oa1) at (592,917) {3.58MHz};
  \node[ctxt] (oa2) at (661,917) {4.43MHz};
  \node[ctxt] (ob1) at (543,929.5) {H\\(4.3V)};
  \node[ctxt] (ob2) at (592,929.5) {PB QUASI S-VHS};
  \node[ctxt] (ob3) at (661,929.5) {PB QUASI S-VHS};
  \node[ctxt] (oc1) at (543,945) {M\\(2.5V)};
  \node[txt] (oc2) at (631,945) {REC SECAM\\PB MESECAM};
  \node[ctxt] (od1) at (543,963.5) {L\\(0V)};
  \node[ctxt] (od2) at (592,963.5) {REC/PB VHS};
  \node[txt] (od3) at (631,963.5) {REC SECAM\\[2pt]PB MESECAM};
  \draw[line width=.5pt] (648,963.5) -- (676,963.5);

  % bottom row of wires
  \coordinate (aaa) at (776,1178);
  \draw[arr] (sumb) -- (pinsec) -- (aaa);
  \gndat{g204}{811,1177}
  \draw (fndev) -- (pinfo) -- (g204);
  \pic[rotate=90] at (811,1147.5) {capa};
  \node[txt] (t204) at (818,1143) {C204};
  \node[txt] (t26) at (815,1126) {2.6V};
  \node[txt] (svhs) at (757,1190.5) {S-VHS DET IN\\(TO PIN83 OF IC701)};
  \node[txt] (tmesa) at (778,1102) {MESECAM};
  \node[txt] (tmesb) at (781,1110) {/SECAM};
  \draw[line width=.5pt] (784,1106) -- (808,1106);
  \node[txt] (tfo) at (813,1106) {fo/DEV.\\S-DET.};
  \node[txt,anchor=south west] (tnf) at (859,1114) {MAIN-EM NF\\MAIN-DEEM\\OUT};
  \node[txt,anchor=south west] (tem) at (916,1114) {MAIN-EM OUT\\MAIN-DEEM IN E-PEAK};
  \node[txt,anchor=south west] (tpc) at (1009,1114) {S-PIC\\DET.};
  \node[txt,anchor=south west] (tme) at (1069,1114) {ME\\PB};
  \node[txt] (vaa) at (862,1128.5) {2.1V(REC)\\~1.7V(PB)};
  \node[txt] (vab) at (919,1128.5) {2.1V(REC)\\~1.6V(PB)};
  \node[txt] (vac) at (975,1125) {0V(REC)};
  \node[txt] (vad) at (1011,1128.5) {0V(REC)\\2.7V(PB)};
  \node[txt] (vae) at (1072,1128.5) {2.\\2.};

  \node[jdot] (bpa) at (857,1141) {};
  \coordinate (bpb) at (914,1141);
  \gndat{g202}{857,1188}
  \draw (mainemp.south -| bpa) -- (pinnf) -- (bpa) -- (bpb) -- (pinem);
  \draw (bpa) -- (g202);
  \pic at (880,1141) {resa};
  \pic[rotate=90] at (857,1152.5) {capa};
  \pic[rotate=90] at (857,1171) {resa};
  \node[txt] (t201) at (882,1148) {R201};
  \node[txt,anchor=east] (t203) at (850,1153) {C203};
  \node[txt,anchor=east] (t202) at (852,1171) {R202};
  \node[jdot] (cpa) at (914,997) {};
  \node[jdot] (cpb) at (914,1060) {};
  \node[jdot] (cpd) at (857,1010) {};
  \draw (mainemp.south -| cpa) -- (cpa) -- (cpb) -- (pinem);
  \draw[draw=black!50] (cpa) -- (mainde.west |- cpa);
  \draw[draw=black!50] (cpd) -- (mainde.west |- cpd);
  \draw[arr] (cpb) -- (ssp);
  \draw (ssp) -- (pinpic);
  \draw (mainde) -- (pinpk);
  \coordinate (l1) at (972,1168);
  \coordinate (l2) at (988,1168);
  \coordinate (l3) at (988,1212);
  \gndat{g203}{972,1199}
  \draw (pinpk) -- (l1) -- (g203);
  \draw[draw=black!60,line width=.5pt] (l1) -- (l2) -- (l3);
  \pic[rotate=90] at (972,1135) {coila};
  \pic[rotate=90] at (972,1154.5) {capa};
  \pic[rotate=90] at (972,1183) {resa};
  \node[txt,anchor=east] (t2l) at (967,1141) {L201};
  \node[txt,anchor=east] (t205) at (965,1155) {C205};
  \node[txt,anchor=east] (t2r) at (967,1178) {R203};
  \gndat{g223}{1007,1177}
  \draw (pinpic) -- (g223);
  \pic[rotate=90] at (1007,1152) {capa};
  \node[txt] (t223) at (1011,1164) {C223};
  \gndat{g207}{1048,1177}
  \draw (pinsw) -- (g207);
  \pic[rotate=90] at (1048,1152) {capa};
  \node[txt,anchor=east] (t207) at (1043,1150) {C207};
  \gndat{g22x}{1067,1177}
  \draw (pinme) -- (g22x);
  \pic[rotate=90] at (1067,1152) {capa};
  \node[txt] (t22x) at (1074,1153) {C2};

  % Q401 part
  \coordinate (qinl) at (1014,1212);
  \draw (l3) -- (qinl);
  \pic at (1005,1212) {resa};
  \draw[amp] (1024,1212) -- (1044,1203) -- (1044,1221) -- cycle;
  \node[term] (qinv) at (1020.5,1212) {};
  \node[txt] (t401) at (995,1205) {R401};
  \node[txt] (tq401) at (1046,1201) {Q401};
  \gndat{gq}{1032,1225}
  \coordinate (gqt) at (1032,1216);
  \draw (gqt) -- (gq);
  \coordinate (qoa) at (1044,1212);
  \coordinate (qob) at (1062,1212);
  \draw[draw=black!60,line width=.5pt] (qoa) -- (qob);
  \node[txt] (tsup) at (1064,1212) {SUPER};
  \node[txt] (tfsq) at (1050,1228) {FOR SQPB};
  \coordinate (qar) at (1000,1187);
  \coordinate (qas) at (977,1131);
  \coordinate (qav) at (1079,1187);
  \draw[thin arr] (qar) -- (qas);
  \draw[draw=black!25,line width=.7pt] (qar) -- (qav);
  \coordinate (qat) at (1079,1140);
  \coordinate (qau) at (1053,1123);
  \draw[thin arr] (qat) -- (qau);

  % SW9, SW12, SW15
  \node[term] (s9a) at (884,1024) {};
  \node[term] (s9b) at (873,1038) {};
  \node[term] (s9c) at (884,1040) {};
  \node[term,fill=black!50] (s9d) at (896,1038) {};
  \draw[arr] (s9a) -- (mainemp.south -| s9a);
  \draw[line width=.6pt] (s9a) -- (s9b);
  \pic[rotate=90] at (884,980) {dblfat};
  \node[txt] (t9) at (887,1017) {SW9};
  \coordinate (ca1) at (873,1057);
  \coordinate (ca2) at (884,1057);
  \gndat{gc1}{873,1073}
  \gndat{gc2}{884,1073}
  \draw (s9b) -- (ca1) -- (gc1);
  \draw (s9c) -- (ca2) -- (gc2);
  \draw[line width=.7pt] (867,1057) -- (890,1057);
  \draw[line width=.9pt,draw=black!35] (868,1060) -- (889,1060);
  \coordinate (s9e) at (1025,1038);
  \draw[arr] (s9e) -- (s9d);
  \draw (s9e) -- (fbc.south -| s9e);
  \pic[rotate=-90] at (1025,980) {dblfat};
  \node[term] (s2a) at (1038,1010) {};
  \node[term] (s2b) at (1057,1010) {};
  \node[term] (s2c) at (1048,1024) {};
  \draw (mainde.east |- s2a) -- (s2a);
  \draw (fbc.south -| s2b) -- (s2b);
  \draw[line width=.6pt] (s2b) -- (s2c);
  \draw (s2c) -- (pinsw);
  \coordinate (s2d) at (1079,997);
  \draw (mainde.east |- s2d) -- (s2d);
  \coordinate (s2e) at (1076,958);
  \coordinate (s2f) at (1076,1000);
  \draw (fbc) -- (s2e) -- (s2f);
  \node[txt] (t12a) at (1034,1003) {P};
  \node[txt] (t12b) at (1060,1003) {R};
  \node[txt] (t12c) at (1053,1024) {SW12};
  \node[txt] (t15a) at (1053,1065) {SW15};
  \node[txt] (t15b) at (1054,1077) {P};
  \node[term] (s5a) at (1075,1084) {};
  \node[term] (s5c) at (1066,1097) {};
  \draw[line width=.6pt] (s5a) -- (s5c);
  \draw (s5c) -- (pinme);

  % signal band pictures with their size marks
  \wavepic{112}{529}{48}{29}
  \wavepic{112}{913}{48}{31}
  \wavepic{538}{568}{47}{30}
  \wavepic{480}{821}{48}{31}
  \burstpic{1053}{797}{27}{23}
  \node[txt] (t05) at (1053,825) {(0.5Vp-p)};
  \foreach \nm/\xx/\yy in {wa1/0/529,wa2/0/913}{
    \begin{scope}[shift={(\xx,\yy)}]
      \coordinate (\nm p) at (165,0);
      \coordinate (\nm q) at (165,26);
      \draw[line width=.5pt,{Latex[length=4pt,width=4pt]}-{Latex[length=4pt,width=4pt]}] (\nm p) -- (\nm q);
      \draw[line width=.5pt,-{Latex[length=4pt,width=4pt]}] (105,0) -- (105,6);
      \draw[line width=.5pt,-{Latex[length=4pt,width=4pt]}] (105,24) -- (105,16);
      \draw[line width=.45pt,draw=black!65] (110,17) -- (96,17) -- (96,35) -- (100,35);
    \end{scope}
  }
  \node[txt] (wt1) at (170,539.5) {200µVp-p(PB)\\20mAp-p(REC)};
  \node[txt] (wt2) at (105,569.5) {100µVp-p(PB)\\5mAp-p(REC)};
  \node[txt] (wt3) at (167,922.5) {200µVp-p(PB)\\20mAp-p(REC)};
  \node[txt] (wt4) at (105,952) {100µVp-p(PB)\\5mAp-p(REC)};
  \coordinate (wsa) at (165,562);
  \coordinate (wsb) at (160,903);
  \draw[thin arr] (wsa) -- (spbp);
  \draw[thin arr] (wsa) -- (spbm);
  \draw[thin arr] (wsa) -- (spap);
  \draw[thin arr] (wsb) -- (lpbp);
  \draw[thin arr] (wsb) -- (lpbm);
  \draw[thin arr] (wsb) -- (lpap);
  \foreach \nm/\xx/\yy in {wc1/538/568,wc2/480/820}{
    \begin{scope}[shift={(\xx,\yy)}]
      \draw[line width=.5pt,{Latex[length=4pt,width=4pt]}-{Latex[length=4pt,width=4pt]}] (52,0) -- (52,24);
      \draw[line width=.5pt,-{Latex[length=4pt,width=4pt]}] (-7,4) -- (-7,11);
      \draw[line width=.5pt,-{Latex[length=4pt,width=4pt]}] (-7,28) -- (-7,20);
      \draw[line width=.45pt,draw=black!65] (-3,19) -- (-11,19) -- (-11,-2) (52,12) -- (63,12) -- (63,35) -- (48,35);
    \end{scope}
  }
  \node[txt] (wt5) at (530,564) {100mVp-p(PB)};
  \node[txt] (wt6) at (541,605) {200mVp-p(PB)};
  \node[txt] (wt7) at (472,815) {100mVp-p(PB)};
  \node[txt] (wt8) at (483,857) {200mVp-p(PB)};
  \coordinate (wca) at (534,603);
  \coordinate (wcb) at (515,625);
  \draw[thin arr] (wca) -- (wcb);
  \coordinate (wda) at (499,808);
  \coordinate (wdb) at (499,648);
  \draw[thin arr] (wda) -- (wdb);

  % stair waveforms at the bottom
  \begin{scope}[shift={(720,960)},scale=.3333,line width=.7pt]
    \draw (215,955) -- (232,955) -- (232,922) -- (245,922) -- (245,955) -- (265,955) -- (265,1040) -- (285,1040) -- (285,1018) -- (305,1018) -- (305,997) -- (328,997) -- (328,975) -- (350,975) -- (350,955) -- (370,955) -- (370,922) -- (382,922) -- (382,955) -- (395,955);
    \draw[dashed,draw=black!60] (250,922) -- (480,922) (285,1038) -- (480,1038);
    \draw[line width=.5pt,{Latex[length=4pt,width=4pt]}-{Latex[length=4pt,width=4pt]}] (465,922) -- (465,960) (465,1000) -- (465,1038);
    \node[txt] (s1a) at (268,908) {1.7V(PB)};
    \node[txt] (s1b) at (368,985) {0.25/0.5Vp-p};
    \node[txt] (s1c) at (268,1062) {(0.5Vp-p REC)\\(0.25Vp-p PB)};
    \draw (528,955) -- (545,955) -- (545,922) -- (558,922) -- (558,955) -- (578,955) -- (578,1080) (578,1040) -- (598,1040) -- (598,1018) -- (618,1018) -- (618,995) -- (640,995) -- (640,975) -- (662,975) -- (662,955) -- (682,955) -- (682,922) -- (695,922) -- (695,955) -- (712,955);
    \draw (540,900) -- (540,960) (682,900) -- (682,960);
    \draw[dashed,draw=black!60] (558,922) -- (790,922) (600,1040) -- (790,1040);
    \draw[line width=.5pt,{Latex[length=4pt,width=4pt]}-{Latex[length=4pt,width=4pt]}] (777,922) -- (777,960) (777,1000) -- (777,1040);
    \node[txt,fill=white] (s2a1) at (603,922) {2.1V};
    \node[txt] (s2b1) at (728,985) {0.5Vp-p};
    \node[txt] (s2c1) at (585,1052) {(0.5Vp-p REC)};
    \draw (845,955) -- (855,955) -- (855,925) -- (868,925) -- (868,955) -- (888,955) -- (888,1040) -- (905,1040) -- (905,1020) -- (920,1020) -- (920,1002) -- (945,1002) -- (945,985) -- (965,985) -- (965,965) -- (985,965) -- (985,925) -- (1005,925) -- (1005,955) -- (1025,955);
    \draw[line width=.4pt] (860,915) -- (860,965) (1000,910) -- (1000,965) (880,965) -- (880,945);
    \draw[dashed,draw=black!60] (1020,922) -- (1080,922) (890,1040) -- (1080,1040);
    \node[txt] (s3b) at (1028,983) {0.25};
    \node[txt] (s3c) at (898,1067) {(0.25Vp-p PB)};
    \draw[draw=black!55,line width=.6pt] (652,900) -- (652,866) -- (965,866) -- (965,900);
    \coordinate (s3d) at (438,905);
    \coordinate (s3e) at (465,555);
    \coordinate (s3f) at (790,852);
    \coordinate (s3g) at (585,550);
    \draw[thin arr] (s3d) -- (s3e);
    \draw[thin arr] (s3f) -- (s3g);
  \end{scope}
\end{tikzpicture}
\end{document}
